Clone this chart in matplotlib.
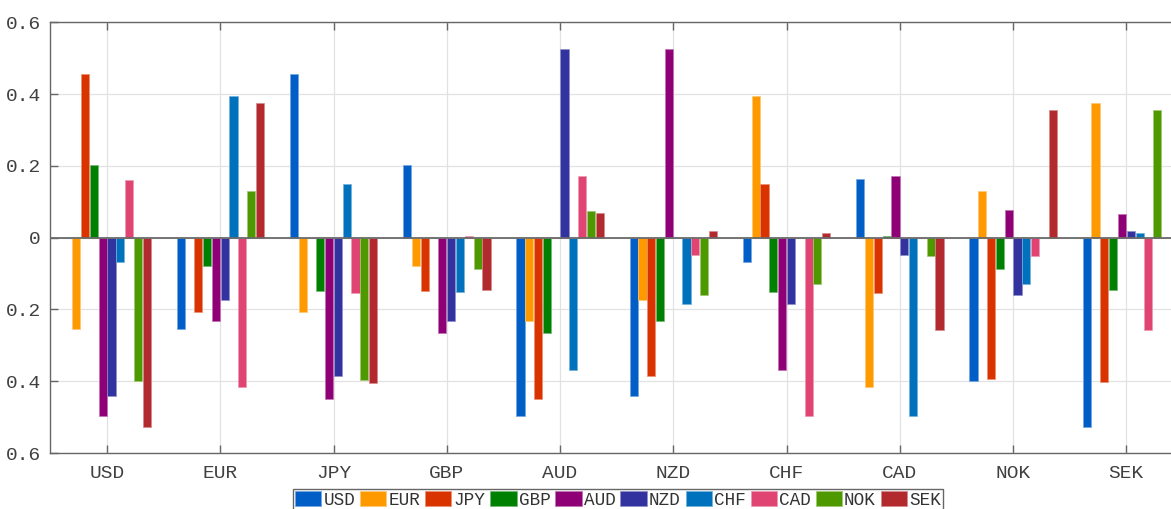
import matplotlib
matplotlib.use("Agg")
import matplotlib.pyplot as plt
import matplotlib.colors as mcolors
import numpy as np

categories = ["USD", "EUR", "JPY", "GBP", "AUD", "NZD", "CHF", "CAD", "NOK", "SEK"]

# one list per series (value for each category group)
usd = [0.0, -0.255, 0.456, 0.203, -0.498, -0.442, -0.068, 0.163, -0.400, -0.527]
eur = [-0.255, 0.0, -0.208, -0.079, -0.232, -0.175, 0.396, -0.416, 0.130, 0.376]
jpy = [0.456, -0.208, 0.0, -0.150, -0.450, -0.385, 0.149, -0.153, -0.395, -0.403]
gbp = [0.203, -0.079, -0.150, 0.0, -0.266, -0.232, -0.151, 0.005, -0.087, -0.145]
aud = [-0.498, -0.232, -0.450, -0.266, 0.0, 0.526, -0.368, 0.171, 0.076, 0.067]
nzd = [-0.442, -0.175, -0.386, -0.232, 0.526, 0.0, -0.184, -0.048, -0.159, 0.019]
chf = [-0.068, 0.396, 0.149, -0.152, -0.369, -0.184, 0.0, -0.497, -0.130, 0.014]
cad = [0.162, -0.417, -0.154, 0.005, 0.171, -0.047, -0.497, 0.0, -0.052, -0.258]
nok = [-0.400, 0.129, -0.396, -0.087, 0.075, -0.159, -0.130, -0.052, 0.0, 0.357]
sek = [-0.527, 0.376, -0.404, -0.145, 0.068, 0.019, 0.013, -0.258, 0.357, 0.0]

series = [usd, eur, jpy, gbp, aud, nzd, chf, cad, nok, sek]
series_names = ["USD", "EUR", "JPY", "GBP", "AUD", "NZD", "CHF", "CAD", "NOK", "SEK"]
colors = ["#005ec6", "#ff9900", "#d93300", "#008000", "#8f0077",
          "#3333a0", "#0071bc", "#e04473", "#4f9900", "#b2292e"]

yticks = [-0.6, -0.4, -0.2, 0, 0.2, 0.4, 0.6]
ytick_labels = ["0.6", "0.4", "0.2", "0", "0.2", "0.4", "0.6"]

FONT = "Liberation Mono"


def lighten(c, f=0.45):
    r, g, b = mcolors.to_rgb(c)
    return (r + (1 - r) * f, g + (1 - g) * f, b + (1 - b) * f)


fig = plt.figure(figsize=(11.71, 5.09), dpi=100)
ax = fig.add_axes([50.4 / 1171, 56 / 509, (1183 - 50.4) / 1171, (486.7 - 56) / 509])

x = np.arange(1, len(categories) + 1)
n = len(series)
step = 0.7 / (n - 1)
width = 0.072
for i, (vals, name, c) in enumerate(zip(series, series_names, colors)):
    off = -0.35 + i * step
    ax.bar(x + off, vals, width=width, color=c, edgecolor=lighten(c),
           linewidth=0.5, label=name, zorder=2)

ax.axhline(0, color="#6a6a6a", lw=1.3, zorder=3)

ax.set_xlim(0.5, 10.5)
ax.set_ylim(-0.6, 0.6)
ax.set_xticks(x)
ax.set_xticklabels(categories, fontfamily=FONT, fontsize=14, color="#404040")
ax.set_yticks(yticks)
ax.set_yticklabels(ytick_labels, fontfamily=FONT, fontsize=14, color="#404040")

ax.tick_params(axis="both", direction="in", length=6, width=1, color="#666666",
               top=True, right=True)
ax.tick_params(axis="x", pad=9)
ax.tick_params(axis="y", pad=7)

ax.set_axisbelow(True)
ax.grid(True, color="#e2e2e2", lw=0.9, linestyle="-")
for s in ax.spines.values():
    s.set_color("#666666")
    s.set_linewidth(1.0)

leg = fig.legend(loc="upper center", bbox_to_anchor=(618 / 1171, 1 - 488.5 / 509),
                 ncol=10, prop={"family": FONT, "size": 12.7},
                 handlelength=1.48, handleheight=0.95, handletextpad=0.12,
                 columnspacing=0.28, borderpad=0.15, borderaxespad=0,
                 fancybox=False, framealpha=1, edgecolor="#666666")
leg.get_frame().set_linewidth(1.0)
for t in leg.get_texts():
    t.set_color("#333333")

fig.savefig("out.png", dpi=100)
